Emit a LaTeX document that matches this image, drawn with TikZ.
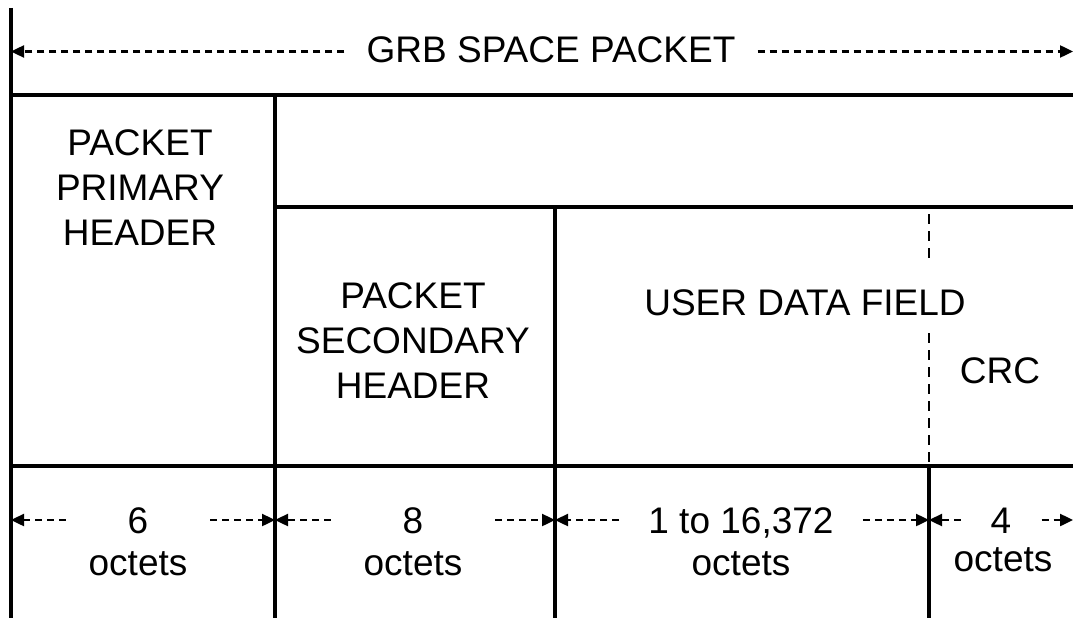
\documentclass[tikz,border=0pt]{standalone}
\usepackage{fontspec}
\setmainfont{Liberation Sans}
\usetikzlibrary{arrows.meta}

\begin{document}
\begin{tikzpicture}
  [x=1pt,y=-1pt,
   every node/.style={font=\fontsize{37pt}{45pt}\selectfont,inner sep=0pt},
   wall/.style={line width=3.2pt},
   split/.style={line width=2.5pt,dash pattern=on 10pt off 7pt},
   dimarrow/.style={line width=2.4pt,dash pattern=on 7pt off 5pt,
     -{Triangle[length=13pt,width=12pt]}},
   size/.style={anchor=base,inner xsep=#1,text height=26pt,text depth=0pt},
   unit/.style={anchor=base}]
  \useasboundingbox (0,0) rectangle (1073,618);

  \coordinate (v0) at (11,0);
  \coordinate (v1) at (275,0);
  \coordinate (v2) at (555,0);
  \coordinate (v3) at (929,0);
  \coordinate (v4) at (1073,0);

  % frame of the packet
  \draw[wall] (11,8) -- (11,618);
  \draw[wall] (11,95) -- (1073,95);
  \draw[wall] (275,95) -- (275,618);
  \draw[wall] (275,207) -- (1073,207);
  \draw[wall] (555,207) -- (555,618);
  \draw[wall] (11,466) -- (1073,466);
  \draw[wall] (929,466) -- (929,618);
  \draw[split] (929,214) -- (929,466);

  \node[anchor=base,inner xsep=22pt,text height=23pt,text depth=0pt] (title) at (551,63) {GRB SPACE PACKET};
  \node[align=center] (prim) at (140,188) {PACKET\\PRIMARY\\HEADER};
  \node[align=center] (sec)  at (413,341) {PACKET\\SECONDARY\\HEADER};
  \node[anchor=base,fill=white,text height=52pt,text depth=17pt] (user) at (805,315) {USER DATA FIELD};
  \node[anchor=base] (crc) at (1000,383) {CRC};

  \node[size=62pt] (s1) at (138,533)  {6};
  \node[size=72pt] (s2) at (413,533)  {8};
  \node[size=29pt] (s3) at (741,533)  {1 to 16,372};
  \node[size=30pt] (s4) at (1001,533) {4};
  \node[unit] (u1) at (138,575)  {octets};
  \node[unit] (u2) at (413,575)  {octets};
  \node[unit] (u3) at (741,575)  {octets};
  \node[unit] (u4) at (1003,571) {octets};

  \draw[dimarrow] (title.west) -- (title.west -| v0);
  \draw[dimarrow] (title.east) -- (title.east -| v4);
  \foreach \n/\l/\r in {s1/v0/v1,s2/v1/v2,s3/v2/v3,s4/v3/v4} {
    \draw[dimarrow] (\n.west) -- (\n.west -| \l);
    \draw[dimarrow] (\n.east) -- (\n.east -| \r);
  }

\end{tikzpicture}
\end{document}
